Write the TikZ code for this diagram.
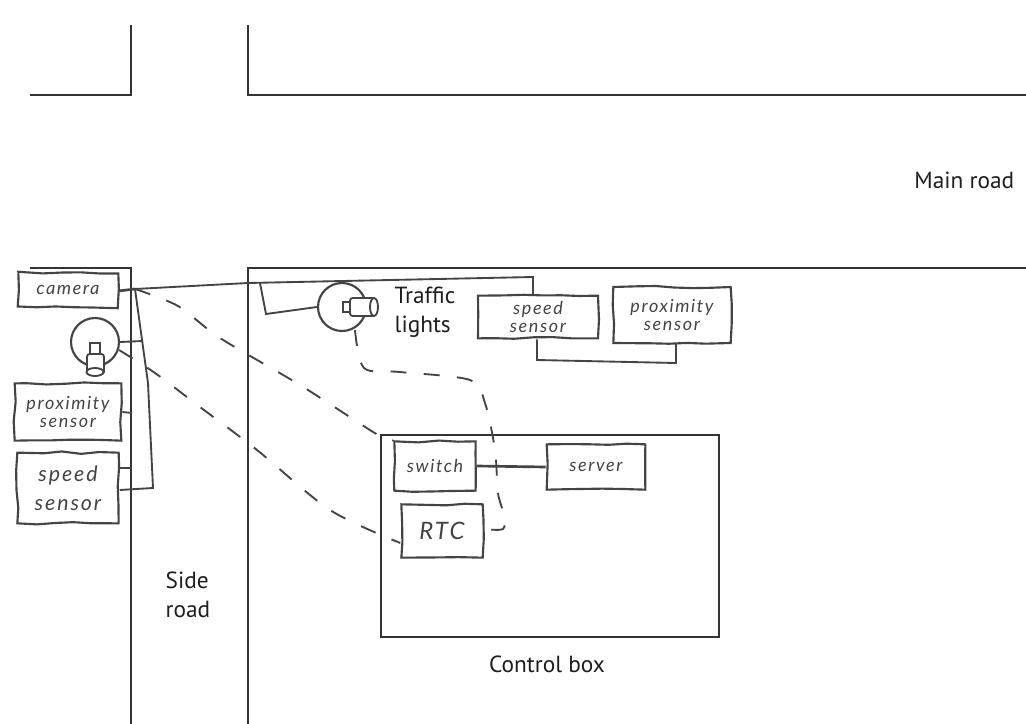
\documentclass[tikz,border=0pt]{standalone}
\usepackage{xcolor}
\usepackage{fontspec}
\setmainfont{PT Sans}
\newfontfamily\handfont[ItalicFont={Lato Italic},ItalicFeatures={LetterSpace=9}]{Lato}
\definecolor{cRoad}{HTML}{333333}
\definecolor{cPen}{HTML}{444444}
\definecolor{cLabel}{HTML}{1E1E1E}
\usetikzlibrary{positioning,decorations.pathmorphing}
\tikzset{
  road/.style={draw=cRoad,line width=1.8pt},
  node-label/.style={text=cLabel,font=\fontsize{17.5}{22}\selectfont,align=left},
  node-hand/.style={draw=cPen,line width=1.6pt,inner sep=0pt,align=center,
    text=cPen,font=\handfont\itshape\fontsize{13.5}{14}\selectfont,
    decoration={random steps,segment length=14pt,amplitude=0.9pt},decorate},
  node-light/.style={draw=cPen,line width=1.6pt,circle,inner sep=0pt,
    minimum size=36pt},
  wire/.style={draw=cPen,line width=1.4pt},
  wire-thick/.style={draw=cPen,line width=2pt},
  wire-dash/.style={draw=cPen,line width=1.4pt,dash pattern=on 12pt off 13pt},
  lens/.style={draw=cPen,line width=1.4pt,fill=white},
}
\begin{document}
\begin{tikzpicture}[x=0.75pt,y=-0.75pt]
  \pgfmathsetseed{7}
  \fill[white] (0,0) rectangle (1026,724);
  \useasboundingbox (0,0) rectangle (1026,724);
  % roads
  \draw[road] (30,95) -- (131,95) -- (131,25);
  \draw[road] (248,25) -- (248,95) -- (1026,95);
  \draw[road] (30,268) -- (131,268) -- (131,724);
  \draw[road] (248,724) -- (248,268) -- (1026,268);
  \node[node-label,anchor=east] (mainroad) at (1019,180) {Main road};
  \node[node-label,anchor=west] (sideroad) at (161,595) {Side\\road};
  \node[node-label] (boxlabel) at (547,664) {Control box};
  \node[node-label,anchor=west] (lightlabel) at (390,312) {Traffic\\lights};
  % control box
  \draw[road] (381,435) rectangle (719,637);
  % side road devices
  \node[node-hand,minimum width=75pt,minimum height=26pt,rotate=-1] (camera) at (68,290) {camera};
  \node[node-light] (sidelight) at (95,342) {};
  \node[node-hand,minimum width=80pt,minimum height=43pt] (sideprox) at (68,412) {proximity\\sensor};
  \node[node-hand,minimum width=76pt,minimum height=53pt,font=\handfont\itshape\fontsize{16}{22}\selectfont] (sidespeed) at (68,488) {speed\\sensor};
  \draw[lens] (90,343) rectangle (100,354);
  \draw[lens,rounded corners=2pt] (87,354) rectangle (104,374);
  \draw[lens] (95,372) ellipse (8.5 and 4);
  % main road devices
  \node[node-light] (mainlight) at (342,307) {};
  \draw[lens] (343,302) rectangle (350,312);
  \draw[lens,rounded corners=2pt] (350,298) rectangle (375,316);
  \draw[lens] (374,307) ellipse (4 and 9);
  \node[node-hand,minimum width=90pt,minimum height=32pt] (mainspeed) at (538,317) {speed\\sensor};
  \node[node-hand,minimum width=88pt,minimum height=42pt] (mainprox) at (672,315) {proximity\\sensor};
  % control box devices
  \node[node-hand,minimum width=61pt,minimum height=37pt] (switch) at (435,466) {switch};
  \node[node-hand,minimum width=74pt,minimum height=34pt] (server) at (596,467) {server};
  \node[node-hand,minimum width=61pt,minimum height=40pt,font=\handfont\itshape\fontsize{18}{20}\selectfont] (rtc) at (442,531) {RTC};
  % solid wiring
  \coordinate (hub) at (135,289);
  \coordinate (speedup) at (533,277);
  \coordinate (tap) at (260,283);
  \draw[wire-thick] (camera.east) -- (hub);
  \draw[wire] (hub) -- (248,283) -- (speedup) -- (mainspeed.north -| speedup);
  \draw[wire] (tap) -- (266,314) -- (mainlight.west);
  \draw[wire] (hub) -- (143,347) -- (148,383) -- (153,488) -- (sidespeed.east |- 0,490);
  \draw[wire] (sidelight.east) -- (143,341);
  \draw[wire] (sideprox.east) -- (132,413);
  \draw[wire-thick] (sidespeed.east |- 0,468) -- (131,468);
  \draw[wire] (mainspeed.south -| 537,0) -- (537,360) -- (676,363) -- (mainprox.south -| 676,0);
  \draw[wire-thick] (switch.east) -- (server.west);
  % dashed wiring
  \draw[wire-dash] plot[smooth] coordinates {(hub) (178,306) (220,338) (300,385) (378,435) (switch.north west)};
  \draw[wire-dash] plot[smooth] coordinates {(119,350) (155,373) (200,407) (257,450) (330,510) ([yshift=-9pt]rtc.west)};
  \draw[wire-dash] plot[smooth] coordinates {(355,330) (364,368) (400,372) (470,380) (485,403) (495,450) (498,493) (504,515) (503,529) (rtc.east |- 0,529)};
\end{tikzpicture}
\end{document}
